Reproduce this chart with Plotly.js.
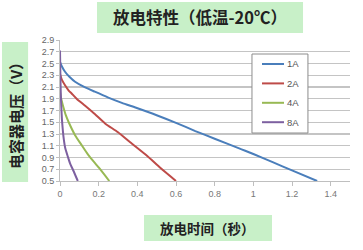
<!DOCTYPE html>
<html><head><meta charset="utf-8">
<script src="https://cdn.plot.ly/plotly-3.0.1.min.js"></script>
<style>html,body{margin:0;padding:0;background:#fff}#c{width:363px;height:250px}</style>
</head><body><div id="c"></div>
<script>
const seriesNames = ["1A", "2A", "4A", "8A"];
const seriesColors = ["#4A7EBB", "#BE4B48", "#98B954", "#7D60A0"];
const t1A = [0, 0.01, 0.026, 0.05, 0.078, 0.12, 0.18, 0.25, 0.32, 0.39, 0.5, 0.6, 0.7, 0.8, 0.93, 1.0, 1.1, 1.2, 1.33];
const v1A = [2.53, 2.45, 2.36, 2.27, 2.19, 2.11, 2.02, 1.92, 1.83, 1.75, 1.62, 1.49, 1.35, 1.22, 1.05, 0.96, 0.82, 0.68, 0.5];
const t2A = [0, 0.01, 0.026, 0.045, 0.06, 0.086, 0.13, 0.18, 0.233, 0.3, 0.363, 0.45, 0.52, 0.6];
const v2A = [2.32, 2.22, 2.13, 2.04, 1.99, 1.9, 1.78, 1.64, 1.48, 1.33, 1.16, 0.93, 0.72, 0.5];
const t4A = [0, 0.003, 0.009, 0.018, 0.03, 0.045, 0.078, 0.11, 0.147, 0.2, 0.255];
const v4A = [2.02, 1.95, 1.86, 1.75, 1.62, 1.5, 1.28, 1.12, 0.94, 0.73, 0.5];
const t8A = [0, 0.002, 0.004, 0.007, 0.01, 0.015, 0.02, 0.027, 0.04, 0.052, 0.07, 0.092];
const v8A = [2.72, 2.3, 2.0, 1.75, 1.55, 1.35, 1.2, 1.06, 0.92, 0.8, 0.67, 0.5];
const xTicks = [0, 0.2, 0.4, 0.6, 0.8, 1, 1.2, 1.4];
const xTickText = ["0", "0.2", "0.4", "0.6", "0.8", "1", "1.2", "1.4"];
const yTicks = [0.5, 0.7, 0.9, 1.1, 1.3, 1.5, 1.7, 1.9, 2.1, 2.3, 2.5, 2.7, 2.9];
const yTickText = ["0.5", "0.7", "0.9", "1.1", "1.3", "1.5", "1.7", "1.9", "2.1", "2.3", "2.5", "2.7", "2.9"];
const chartTitle = "放电特性（低温-20℃）";
const xTitle = "放电时间（秒）";
const yTitle = "电容器电压（V）";

const xs = [t1A, t2A, t4A, t8A];
const ys = [v1A, v2A, v4A, v8A];
const traces = seriesNames.map((n, i) => ({
  x: xs[i], y: ys[i], name: n, type: "scatter", mode: "lines", showlegend: false,
  line: {color: seriesColors[i], width: 2, shape: "spline", smoothing: 0.6}
}));

const green = "#C8F0C8";
const cjk = "'Noto Sans CJK SC', sans-serif";
const latin = "Liberation Sans, Arial, sans-serif";

// legend box (drawn as shapes/annotations, paper coordinates)
const shapes = [
  {type: "rect", xref: "paper", yref: "paper", x0: 0.1276, x1: 0.838, y0: 1.0496, y1: 1.2695, fillcolor: green, line: {width: 0}, layer: "below"},
  {type: "rect", xref: "paper", yref: "paper", x0: -0.2, x1: -0.11, y0: -0.007, y1: 0.986, fillcolor: green, line: {width: 0}, layer: "below"},
  {type: "rect", xref: "paper", yref: "paper", x0: 0.2897, x1: 0.731, y0: -0.426, y1: -0.241, fillcolor: green, line: {width: 0}, layer: "below"},
  {type: "rect", xref: "paper", yref: "paper", x0: 0.662, x1: 0.855, y0: 0.3404, y1: 0.9007, fillcolor: "#fff", line: {color: "#8c8c8c", width: 1}, layer: "above"}
];
const annotations = [
  {text: "<b>" + chartTitle + "</b>", xref: "paper", yref: "paper", x: 0.483, y: 1.16, xanchor: "center", yanchor: "middle", showarrow: false,
    font: {family: cjk, size: 16.5, color: "#222"}},
  {text: "<b>" + yTitle + "</b>", xref: "paper", yref: "paper", x: -0.155, y: 0.489, xanchor: "center", yanchor: "middle", showarrow: false, textangle: -90,
    font: {family: cjk, size: 15, color: "#222"}},
  {text: "<b>" + xTitle + "</b>", xref: "paper", yref: "paper", x: 0.51, y: -0.333, xanchor: "center", yanchor: "middle", showarrow: false,
    font: {family: cjk, size: 13.5, color: "#222"}}
];
seriesNames.forEach((n, i) => {
  const yy = 0.8298 - i * 0.1376;
  shapes.push({type: "line", xref: "paper", yref: "paper", x0: 0.6966, x1: 0.7724, y0: yy, y1: yy,
    line: {color: seriesColors[i], width: 2}, layer: "above"});
  annotations.push({text: n, xref: "paper", yref: "paper", x: 0.7772, y: yy, xanchor: "left", yanchor: "middle",
    showarrow: false, font: {family: latin, size: 9.5, color: "#555"}});
});

const layout = {
  width: 363, height: 250,
  margin: {l: 60, r: 13, t: 40, b: 69},
  paper_bgcolor: "#fff", plot_bgcolor: "#fff",
  showlegend: false,
  xaxis: {range: [0, 1.5], tickvals: xTicks, ticktext: xTickText,
    showgrid: false, zeroline: false, showline: true, linecolor: "#bfbfbf", linewidth: 1,
    ticks: "outside", ticklen: 4, tickcolor: "#bfbfbf",
    tickfont: {family: latin, size: 9, color: "#777"}},
  yaxis: {range: [0.5, 2.9], tickvals: yTicks, ticktext: yTickText,
    showgrid: true, gridcolor: "#c4c4c4", gridwidth: 1.2, zeroline: false,
    showline: true, linecolor: "#bfbfbf", linewidth: 1,
    ticks: "outside", ticklen: 3, tickcolor: "#bfbfbf",
    tickfont: {family: latin, size: 9, color: "#666"}},
  shapes: shapes,
  annotations: annotations
};
Plotly.newPlot("c", traces, layout, {displayModeBar: false, staticPlot: true});
</script></body></html>
